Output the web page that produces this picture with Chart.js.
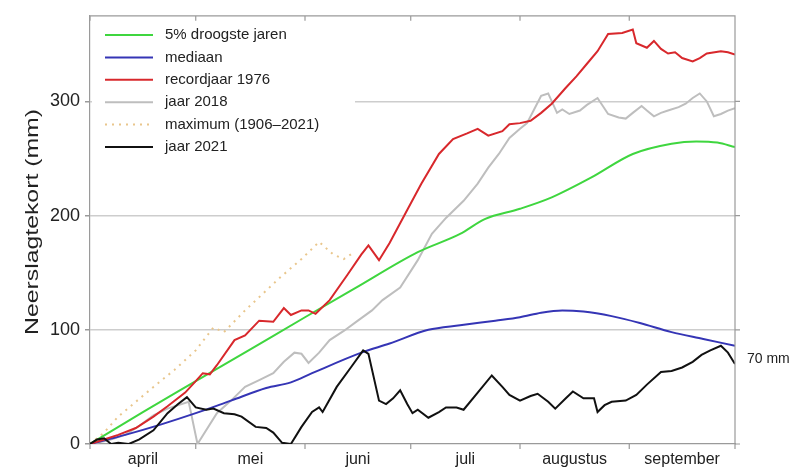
<!DOCTYPE html>
<html>
<head>
<meta charset="utf-8">
<script src="https://cdn.jsdelivr.net/npm/chart.js@4/dist/chart.umd.min.js"></script>
<style>
  html, body { margin: 0; padding: 0; background: #ffffff; }
  #wrap { width: 808px; height: 476px; }
</style>
</head>
<body>
<div id="wrap"><canvas id="c" width="808" height="476"></canvas></div>
<script>
// Season axis: day 0 = 1 april, day 183 = 30 september
const monthNames = ['april', 'mei', 'juni', 'juli', 'augustus', 'september'];
const monthStarts = [0, 30, 61, 91, 122, 153, 183];
const yTickValues = [0, 100, 200, 300];

// 5% droogste jaren
const droogDays   = [0, 15, 30, 45, 61, 75, 93, 105, 112, 122, 131, 142, 154, 165, 172, 178, 183];
const droogValues = [0, 28, 55, 82, 111, 136, 168, 184, 197, 206, 216, 233, 254, 263, 265, 264, 260];

// mediaan
const mediaanDays   = [0, 5, 10, 20, 30, 40, 50, 57, 63, 77, 85, 96, 105, 115, 122, 128, 134, 140, 148, 156, 165, 174, 183];
const mediaanValues = [0, 4, 8, 17, 27, 38, 49, 54, 62, 80, 88, 100, 104, 108, 111, 115, 117, 116, 112, 106, 98, 92, 86];

// recordjaar 1976
const recordDays   = [0, 4, 8, 13, 18, 22, 27, 30, 32, 34, 36, 41, 44, 48, 52, 55, 57, 60, 62, 64, 68, 73, 77, 79, 82, 85, 90, 94, 99, 103, 107, 110, 113, 117, 119, 122, 125, 128, 131, 135, 138, 141, 144, 147, 151, 154, 155, 158, 160, 162, 164, 166, 168, 171, 173, 175, 179, 181, 183];
const recordValues = [0, 4, 8, 14, 24, 33, 45, 55, 62, 61, 69, 91, 95, 108, 107, 119, 113, 117, 117, 114, 126, 148, 166, 174, 161, 176, 205, 228, 254, 267, 272, 276, 270, 274, 280, 281, 283, 290, 298, 312, 322, 333, 344, 359, 360, 363, 351, 347, 353, 346, 342, 343, 338, 335, 338, 342, 344, 343, 341];

// jaar 2018
const jaar2018Days   = [0, 5, 10, 14, 18, 22, 28, 30.5, 36, 40, 44, 48, 52, 55, 58, 60, 62, 65, 68, 72, 76, 80, 83, 88, 93, 97, 101, 106, 110, 113, 116, 119, 122, 124, 126, 128, 130, 132.5, 134, 136, 139, 141, 144, 147, 150, 152, 154, 156.5, 158, 160, 162, 164, 167, 169, 171, 173, 175, 177, 179, 181, 183];
const jaar2018Values = [0, 3, 8, 16, 25, 31, 37, 0, 27, 38, 50, 56, 62, 72, 80, 79, 71, 80, 91, 99, 108, 117, 126, 137, 161, 184, 198, 213, 228, 242, 254, 268, 276, 281, 293, 305, 307, 290, 293, 289, 292, 297, 303, 289, 286, 285, 290, 296, 292, 287, 290, 292, 295, 298, 303, 307, 300, 287, 289, 292, 294];

// maximum (1906-2021), zichtbaar zolang het boven 1976 ligt
const maxDays   = [0, 4, 8, 13, 18, 24, 30, 35, 38, 44, 54, 60, 65, 69, 72, 75];
const maxValues = [0, 10, 24, 37, 50, 65, 82, 102, 98, 117, 146, 162, 177, 166, 162, 168];

// jaar 2021
const jaar2021Days   = [0, 2, 4, 6, 8, 11, 14, 18, 22, 25, 27.5, 30, 33, 35, 38, 41, 43, 47, 50, 52, 54.5, 57, 60, 63, 65, 66, 70, 74, 77.5, 79, 82, 84, 86, 88, 90, 91.5, 93, 96, 99, 101, 104, 106, 110, 114, 117, 119, 122, 125, 127, 130, 132, 135, 137, 140, 143, 144, 146, 148, 152, 155, 158, 162, 165, 168, 171, 173.5, 176, 179, 181, 183];
const jaar2021Values = [0, 4, 5, 0, 1, 0, 4, 12, 27, 35, 41, 32, 30, 31, 27, 26, 24, 15, 14, 10, 1, 0, 15, 28, 32, 28, 50, 67, 82, 79, 38, 35, 40, 47, 35, 27, 30, 23, 28, 32, 32, 30, 45, 60, 50, 43, 38, 42, 44, 37, 31, 40, 46, 40, 40, 28, 34, 37, 38, 43, 52, 63, 64, 67, 72, 78, 82, 86, 80, 70];

const FONT = "'Liberation Sans', Arial, Helvetica, sans-serif";
const AXIS_COLOR = '#9a9a9a';
const GRID_COLOR = '#cdcdcd';
const TEXT_COLOR = '#222222';

function points(days, values) {
  return days.map((d, i) => ({ x: d, y: values[i] }));
}

const mids = monthStarts.slice(0, -1).map((s, i) => (s + monthStarts[i + 1]) / 2);

// Frame: top and right border with their tick marks, plus bottom month ticks
const framePlugin = {
  id: 'frame',
  afterDraw(chart) {
    const { ctx, chartArea: a, scales } = chart;
    ctx.save();
    ctx.strokeStyle = AXIS_COLOR;
    ctx.lineWidth = 1.2;
    ctx.beginPath();
    ctx.moveTo(a.left, a.top); ctx.lineTo(a.right, a.top); ctx.lineTo(a.right, a.bottom);
    monthStarts.forEach(d => {
      const x = scales.x.getPixelForValue(d);
      ctx.moveTo(x, a.top); ctx.lineTo(x, a.top + 5);
      ctx.moveTo(x, a.bottom); ctx.lineTo(x, a.bottom + 5);
    });
    yTickValues.forEach(v => {
      const y = scales.y.getPixelForValue(v);
      ctx.moveTo(a.right, y); ctx.lineTo(a.right + 5, y);
    });
    ctx.stroke();
    ctx.restore();
  }
};

// Legend box in the upper-left corner of the plot
const legendPlugin = {
  id: 'boxLegend',
  afterDatasetsDraw(chart) {
    const { ctx } = chart;
    const order = ['droog', 'mediaan', 'record', 'j2018', 'max', 'j2021'];
    ctx.save();
    ctx.fillStyle = '#ffffff';
    ctx.fillRect(92, 17, 263, 145);
    ctx.font = '15px ' + FONT;
    ctx.textBaseline = 'middle';
    ctx.textAlign = 'left';
    order.forEach((id, i) => {
      const ds = chart.data.datasets.find(d => d.id === id);
      const y = 35 + i * 22.4;
      ctx.strokeStyle = ds.borderColor;
      ctx.lineWidth = ds.borderWidth;
      ctx.setLineDash(ds.borderDash || []);
      ctx.beginPath();
      ctx.moveTo(105, y); ctx.lineTo(153, y);
      ctx.stroke();
      ctx.setLineDash([]);
      ctx.fillStyle = TEXT_COLOR;
      ctx.fillText(ds.label, 165, y);
    });
    ctx.restore();
  }
};

// Axis title and the end label of the 2021 line
const textPlugin = {
  id: 'texts',
  afterDraw(chart) {
    const { ctx, chartArea: a, scales } = chart;
    ctx.save();
    ctx.fillStyle = TEXT_COLOR;
    // y-axis title, rotated
    const title = 'Neerslagtekort (mm)';
    ctx.font = '18px ' + FONT;
    const w = ctx.measureText(title).width;
    ctx.translate(33, 222);
    ctx.rotate(-Math.PI / 2);
    ctx.scale(226 / w, 1);
    ctx.textAlign = 'center';
    ctx.textBaseline = 'middle';
    ctx.fillText(title, 0, 0);
    ctx.restore();

    ctx.save();
    const last = jaar2021Values[jaar2021Values.length - 1];
    ctx.font = '14px ' + FONT;
    ctx.fillStyle = TEXT_COLOR;
    ctx.textAlign = 'left';
    ctx.textBaseline = 'middle';
    ctx.fillText(last + ' mm', a.right + 12, scales.y.getPixelForValue(last) - 5);
    ctx.restore();
  }
};

const lineBase = { pointRadius: 0, pointHoverRadius: 0, fill: false, borderWidth: 2 };

new Chart(document.getElementById('c'), {
  type: 'line',
  data: {
    datasets: [
      { ...lineBase, id: 'j2021', label: 'jaar 2021', data: points(jaar2021Days, jaar2021Values),
        borderColor: '#111111', tension: 0, order: 0 },
      { ...lineBase, id: 'record', label: 'recordjaar 1976', data: points(recordDays, recordValues),
        borderColor: '#d8282c', tension: 0, order: 1 },
      { ...lineBase, id: 'mediaan', label: 'mediaan', data: points(mediaanDays, mediaanValues),
        borderColor: '#3535b5', tension: 0.4, cubicInterpolationMode: 'monotone', order: 2 },
      { ...lineBase, id: 'droog', label: '5% droogste jaren', data: points(droogDays, droogValues),
        borderColor: '#3fd63f', tension: 0.4, cubicInterpolationMode: 'monotone', order: 3 },
      { ...lineBase, id: 'j2018', label: 'jaar 2018', data: points(jaar2018Days, jaar2018Values),
        borderColor: '#bebebe', tension: 0, order: 4 },
      { ...lineBase, id: 'max', label: 'maximum (1906\u20132021)', data: points(maxDays, maxValues),
        borderColor: '#e9c68c', borderDash: [2, 5], tension: 0, order: 5 }
    ]
  },
  options: {
    responsive: false,
    animation: false,
    devicePixelRatio: 1,
    layout: { padding: { top: 15, right: 73, left: 0, bottom: 0 } },
    plugins: { legend: { display: false }, tooltip: { enabled: false } },
    scales: {
      x: {
        type: 'linear',
        min: 0,
        max: 183,
        afterBuildTicks: s => { s.ticks = mids.map(v => ({ value: v })); },
        afterFit: s => { s.height = 32; },
        ticks: {
          autoSkip: false,
          maxRotation: 0,
          padding: 6,
          color: TEXT_COLOR,
          font: { family: FONT, size: 16 },
          callback: (v, i) => monthNames[i]
        },
        grid: { display: false, drawTicks: false },
        border: { display: true, color: AXIS_COLOR, width: 1.2 }
      },
      y: {
        min: 0,
        max: 375,
        afterBuildTicks: s => { s.ticks = yTickValues.map(v => ({ value: v })); },
        afterFit: s => { s.width = 90; },
        ticks: {
          padding: 5,
          color: TEXT_COLOR,
          font: { family: FONT, size: 18 }
        },
        grid: {
          color: c => (c.tick && c.tick.value === 0 ? 'rgba(0,0,0,0)' : GRID_COLOR),
          lineWidth: 1.5,
          drawTicks: true,
          tickLength: 5,
          tickColor: AXIS_COLOR
        },
        border: { display: true, color: AXIS_COLOR, width: 1.2 }
      }
    }
  },
  plugins: [framePlugin, legendPlugin, textPlugin]
});
</script>
</body>
</html>
